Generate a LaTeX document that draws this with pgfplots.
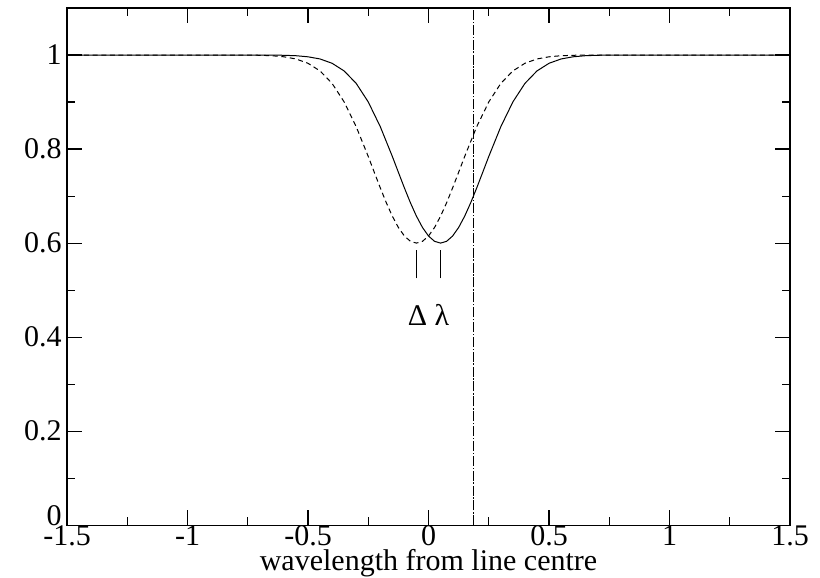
\documentclass[border=0pt]{standalone}
\usepackage{fontspec}
\setmainfont{Liberation Serif}
\usepackage{pgfplots}
\pgfplotsset{compat=1.18}

% solid: profile centred at +0.05, dashed: centred at -0.05
\pgfplotstableread{
x       y
-1.5    1.0
-0.65   1.0
-0.6    0.9994
-0.55   0.9985
-0.5    0.9962
-0.45   0.9916
-0.4    0.9824
-0.35   0.9661
-0.3    0.9396
-0.25   0.9002
-0.2    0.8475
-0.15   0.7842
-0.125  0.7506
-0.1    0.7173
-0.075  0.6857
-0.05   0.6572
-0.025  0.6332
0.0     0.6151
0.025   0.6038
0.05    0.6
0.075   0.6038
0.1     0.6151
0.125   0.6332
0.15    0.6572
0.175   0.6857
0.2     0.7173
0.225   0.7506
0.25    0.7842
0.3     0.8475
0.35    0.9002
0.4     0.9396
0.45    0.9661
0.5     0.9824
0.55    0.9916
0.6     0.9962
0.65    0.9985
0.7     0.9994
0.75    1.0
1.5     1.0
}\solidline

\pgfplotstableread{
x       y
-1.5    1.0
-0.75   1.0
-0.7    0.9994
-0.65   0.9985
-0.6    0.9962
-0.55   0.9916
-0.5    0.9824
-0.45   0.9661
-0.4    0.9396
-0.35   0.9002
-0.3    0.8475
-0.25   0.7842
-0.225  0.7506
-0.2    0.7173
-0.175  0.6857
-0.15   0.6572
-0.125  0.6332
-0.1    0.6151
-0.075  0.6038
-0.05   0.6
-0.025  0.6038
0.0     0.6151
0.025   0.6332
0.05    0.6572
0.075   0.6857
0.1     0.7173
0.125   0.7506
0.15    0.7842
0.2     0.8475
0.25    0.9002
0.3     0.9396
0.35    0.9661
0.4     0.9824
0.45    0.9916
0.5     0.9962
0.55    0.9985
0.6     0.9994
0.65    1.0
1.5     1.0
}\dashedline

\begin{document}
\begin{tikzpicture}
\begin{axis}[
    width=506pt, height=362pt,
    scale only axis,
    xmin=-1.5, xmax=1.5,
    ymin=0, ymax=1.1,
    xtick={-1.5,-1,...,1.5},
    ytick={0.2,0.4,...,1},
    extra y ticks={0},
    extra y tick style={yticklabel style={yshift=7pt}},
    minor xtick={-1.25,-0.75,...,1.25},
    minor ytick={0.1,0.3,...,0.9},
    tick align=inside,
    tick pos=both,
    major tick length=10.5pt,
    minor tick length=5.6pt,
    every tick/.style={black, line width=0.8pt},
    axis line style={line width=1pt},
    tick label style={font=\fontsize{21}{25}\selectfont},
    /pgf/number format/assume math mode=true,
    xticklabel style={anchor=base, inner sep=0pt, yshift=-14pt},
    yticklabel style={inner sep=3.5pt},
    xlabel={wavelength from line centre},
    xlabel style={font=\fontsize{21}{25}\selectfont, inner sep=0pt,
        at={(axis description cs:0.5,0)}, anchor=base, yshift=-31.5pt},
]
\addplot[black, line width=0.7pt] table[x=x,y=y] {\solidline};
\addplot[black, line width=0.7pt, dash pattern=on 3.5pt off 2.5pt] table[x=x,y=y] {\dashedline};
\addplot[black, line width=0.7pt, dash pattern=on 7pt off 1.2pt on 1pt off 1.2pt] coordinates {(0.185,0) (0.185,1.1)};
\addplot[black, line width=0.7pt] coordinates {(-0.05,0.525) (-0.05,0.585)};
\addplot[black, line width=0.7pt] coordinates {(0.05,0.525) (0.05,0.585)};
\node[font=\fontsize{21}{25}\selectfont] at (axis cs:0,0.447) {Δ λ};
\end{axis}
\pgfresetboundingbox
\path[use as bounding box] (current axis.south west) ++(-46.9pt,-36.4pt)
    rectangle ([shift={(21pt,5.6pt)}]current axis.north east);
\end{tikzpicture}
\end{document}
